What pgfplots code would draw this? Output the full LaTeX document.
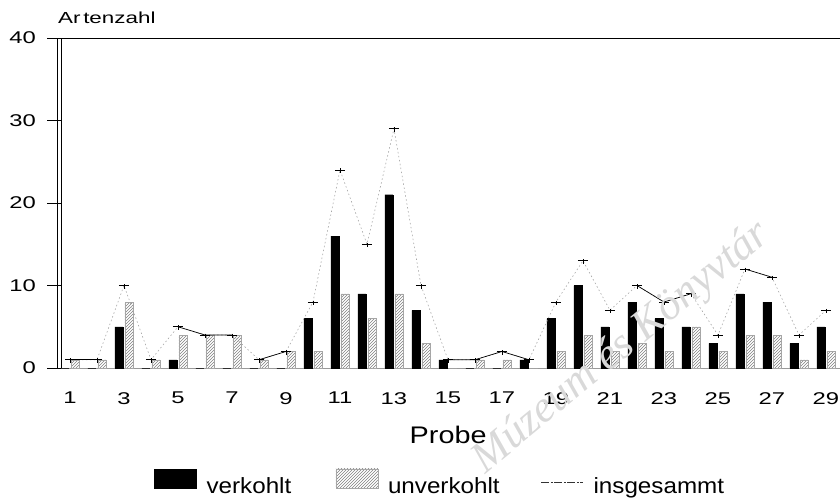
\documentclass[border=0pt]{standalone}
\usepackage{fontspec}
\setmainfont{Liberation Sans}
\usepackage{pgfplots}
\pgfplotsset{compat=1.18}
\usetikzlibrary{patterns}
\newfontfamily\tickfont[FakeStretch=1.4]{Liberation Sans}
\newfontfamily\labfont[FakeStretch=1.2]{Liberation Sans}
\newfontfamily\legfont[FakeStretch=1.1]{Liberation Sans}
\newfontfamily\wmfont{Liberation Serif}
\pgfdeclareplotmark{tee}{%
  \pgfpathmoveto{\pgfqpoint{-5pt}{0pt}}\pgfpathlineto{\pgfqpoint{5pt}{0pt}}%
  \pgfpathmoveto{\pgfqpoint{0pt}{1.5pt}}\pgfpathlineto{\pgfqpoint{0pt}{-3pt}}%
  \pgfusepathqstroke}
\pgfplotstableread{
n  verk unverk total
1  0  1  1
2  0  1  1
3  5  8  10
4  0  1  1
5  1  4  5
6  0  4  4
7  0  4  4
8  0  1  1
9  0  2  2
10 6  2  8
11 16 9  24
12 9  6  15
13 21 9  29
14 7  3  10
15 1  0  1
16 0  1  1
17 0  1  2
18 1  0  1
19 6  2  8
20 10 4  13
21 5  2  7
22 8  3  10
23 6  2  8
24 5  5  9
25 3  2  4
26 9  4  12
27 8  4  11
28 3  1  4
29 5  2  7
}\datatable
\begin{document}
\begin{tikzpicture}
\useasboundingbox (0,0) rectangle (840pt,498pt);
\begin{axis}[
  at={(61pt,130pt)}, anchor=south west,
  scale only axis, width=779pt, height=330pt,
  xmin=0.667, xmax=29.52, ymin=0, ymax=40,
  axis x line*=bottom, axis y line*=left,
  axis line style={-},
  x axis line style={draw=gray!80, line width=0.7pt},
  y axis line style={draw=black, line width=0.7pt},
  ytick={0,10,20,30,40}, xtick={1,3,...,29},
  ytick align=outside, major tick length=14pt,
  xtick style={draw=none},
  ytick style={line width=0.6pt, black},
  /pgf/number format/assume math mode=true,
  yticklabel style={font=\tickfont\fontsize{17}{17}\selectfont, anchor=east, inner sep=0pt, xshift=-11pt},
  xticklabel style={font=\tickfont\fontsize{17}{17}\selectfont, anchor=north, inner sep=0pt, yshift=-24pt},
  every axis y label/.style={at={(axis description cs:0,1)}, anchor=base west, inner sep=0pt, xshift=-3pt, yshift=14pt, font=\tickfont\fontsize{16}{16}\selectfont},
  ylabel={Ar\,tenzahl},
  every axis x label/.style={at={(axis description cs:0.497,0)}, anchor=base, yshift=-75pt, font=\labfont\fontsize{24}{24}\selectfont},
  xlabel={Probe},
  legend style={at={(axis description cs:0.1194,-0.3455)}, anchor=west, draw=none, fill=none,
    inner sep=0pt, nodes={inner sep=0pt}, font=\legfont\fontsize{22}{22}\selectfont,
    /tikz/every odd column/.append style={column sep=10pt}},
  legend columns=3, legend cell align=left,
  clip=false,
]
\addplot[ybar, bar width=8pt, bar shift=-5pt, fill=black, draw=black, line width=0.4pt,
  legend image code/.code={\fill[black] (0pt,-1pt) rectangle (42pt,18pt);}]
  table[x=n, y=verk] {\datatable};
\addlegendentry{\makebox[129pt][l]{verkohlt}}
\addplot[ybar, bar width=8pt, bar shift=5pt, pattern=north east lines, pattern color=gray, draw=gray!70, line width=0.4pt,
  legend image code/.code={\fill[pattern=north east lines, pattern color=gray] (0pt,-1pt) rectangle (42pt,18pt);}]
  table[x=n, y=unverk] {\datatable};
\addlegendentry{\makebox[153pt][l]{unverkohlt}}
\addplot[draw=gray!70, line width=0.6pt, dash pattern=on 1.5pt off 2.5pt, mark=tee, mark options={solid, black, line width=0.8pt},
  legend image code/.code={\draw[black!80, line width=0.6pt, dash pattern=on 8pt off 1.5pt on 2pt off 1.5pt] (0pt,4.5pt) -- (42pt,4.5pt);}]
  table[x=n, y=total] {\datatable};
\addlegendentry{insgesammt}
\addplot[forget plot, black, line width=0.7pt] coordinates {(1,1) (2,1)};
\addplot[forget plot, black, line width=0.7pt] coordinates {(5,5) (6,4) (7,4)};
\addplot[forget plot, black, line width=0.7pt] coordinates {(8,1) (9,2)};
\addplot[forget plot, black, line width=0.7pt] coordinates {(15,1) (16,1) (17,2) (18,1)};
\addplot[forget plot, black, line width=0.7pt] coordinates {(22,10) (23,8) (24,9)};
\addplot[forget plot, black, line width=0.7pt] coordinates {(26,12) (27,11)};
\draw[black, line width=0.7pt] (rel axis cs:0,1) -- (rel axis cs:1,1);
\draw[black, line width=0.7pt] ([xshift=-4pt]rel axis cs:0,0) -- ([xshift=-4pt]rel axis cs:0,1);
\end{axis}
\node[rotate=39.4, text=gray!30, font=\wmfont\itshape\fontsize{44}{44}\selectfont] at (622pt,150pt) {Múzeum és Könyvtár};
\end{tikzpicture}
\end{document}
